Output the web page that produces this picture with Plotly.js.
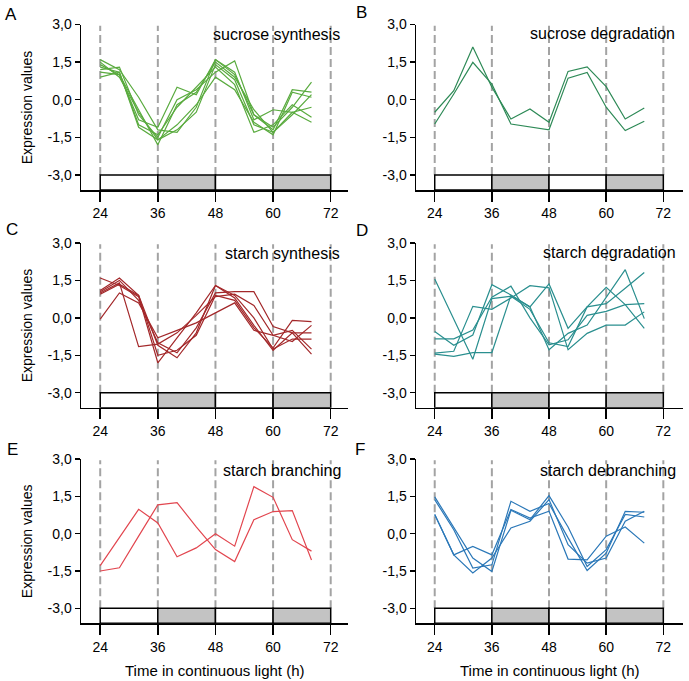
<!DOCTYPE html>
<html>
<head>
<meta charset="utf-8">
<script src="https://cdn.plot.ly/plotly-3.0.1.min.js"></script>
<style>
  html, body { margin: 0; padding: 0; background: #ffffff; }
  #chart { width: 689px; height: 681px; }
</style>
</head>
<body>
<div id="chart"></div>
<script>
// ---- data ----
const hours = [24, 28, 32, 36, 40, 44, 48, 52, 56, 60, 64, 68];
const xTickVals = [24, 36, 48, 60, 72];
const yTickVals = [-3, -1.5, 0, 1.5, 3];
const yTickText = ["-3,0", "-1,5", "0,0", "1,5", "3,0"];
const panelLetters = ["A", "B", "C", "D", "E", "F"];
const panelTitles = ["sucrose synthesis", "sucrose degradation", "starch synthesis",
                     "starch degradation", "starch branching", "starch debranching"];
const yAxisTitle = "Expression values";
const xAxisTitle = "Time in continuous light (h)";
// light/dark periods (subjective day = white, subjective night = grey)
const periodStarts = [24, 36, 48, 60];
const periodEnds = [36, 48, 60, 72];
const periodDark = [false, true, false, true];

const sucroseSynthesis = [
  [1.6, 1.2, 0.1, -1.2, -1.3, -0.3, 1.6, 1.0, -0.6, -1.2, 0.4, 0.3],
  [1.4, 1.0, -0.4, -1.8, -0.2, 0.3, 1.5, 0.9, -0.4, -1.3, -0.5, -0.9],
  [1.2, 1.3, -0.6, -1.5, 0.0, 0.4, 1.1, 1.55, -0.6, -1.1, -0.3, 0.7],
  [1.3, 1.1, -1.0, -1.4, -0.3, 0.5, 1.3, 0.6, -1.3, -1.0, -0.2, -0.7],
  [0.9, 1.1, -1.1, -1.6, -1.0, -0.2, 0.9, 0.4, -0.9, -1.4, 0.3, 0.1],
  [1.1, 1.0, -0.8, -1.1, 0.5, 0.2, 1.6, 1.1, -0.8, -0.4, -0.5, -0.3],
  [1.5, 0.9, -0.5, -1.6, -1.2, -0.5, 1.4, 0.8, -1.0, -1.3, -0.6, 0.2]
];
const sucroseDegradation = [
  [-0.5, 0.36, 2.1, 0.5, -0.77, -0.37, -0.9, 1.13, 1.31, 0.52, -0.77, -0.33],
  [-0.97, 0.23, 1.49, 0.62, -0.97, -1.07, -1.2, 0.86, 1.09, -0.3, -1.23, -0.86]
];
const starchSynthesis = [
  [1.6, 1.3, 0.85, -1.8, -0.8, 0.2, 1.3, 0.9, 0.0, -1.25, -0.85, -0.85],
  [1.1, 1.6, 0.9, -1.1, -1.6, -0.6, 1.3, 0.8, -0.3, -1.3, -0.6, -1.45],
  [1.05, 1.5, 0.7, -1.0, -1.4, -0.4, 1.0, 1.05, 1.05, -0.35, -0.6, -0.6],
  [1.0, 1.4, -1.15, -1.05, -0.6, 0.1, 0.85, 0.95, 0.5, -0.7, -0.95, -0.3],
  [0.95, 1.35, 0.9, -1.5, -1.3, -0.7, 0.9, 0.7, -0.4, -1.2, -0.1, -0.15],
  [-0.05, 1.0, 0.6, -0.8, -0.5, -0.2, 0.2, 0.6, -0.5, -0.7, -0.5, -1.25]
];
const starchDegradation = [
  [1.56, -0.05, -1.66, 0.77, 0.87, 0.34, -1.0, -1.15, 0.44, 1.22, 0.53, -0.42],
  [-0.55, -1.1, -0.69, 1.33, 0.92, 0.44, -1.28, -0.62, -0.29, 0.83, 1.93, -0.03],
  [-0.84, -0.84, -0.49, 0.83, 1.27, 0.0, -1.08, -0.88, 0.1, 0.26, 0.53, 0.57],
  [-1.41, -1.34, 0.46, 0.34, 0.8, 1.29, 1.2, -1.28, -0.62, -0.29, -0.29, 0.24],
  [-1.45, -1.54, -1.39, -1.39, 0.9, 0.44, 1.36, -0.42, 0.44, 0.57, 1.19, 1.82]
];
const starchBranching = [
  [-1.28, -0.15, 0.98, 0.43, -0.93, -0.57, 0.0, -0.5, 1.89, 1.46, -0.24, -0.7],
  [-1.5, -1.37, -0.1, 1.16, 1.25, 0.27, -0.64, -1.12, 0.56, 0.89, 0.93, -1.06]
];
const starchDebranching = [
  [1.48, 0.27, -0.98, -1.52, 0.94, 0.56, 1.53, 0.27, -1.32, -0.64, 0.77, 0.67],
  [1.37, 0.16, -1.38, -1.25, 1.3, 0.9, 1.21, -0.17, -1.48, -0.78, 0.9, 0.86],
  [0.77, -0.85, -1.58, -0.98, 0.23, 0.5, 1.37, -0.44, -1.18, -0.98, 0.5, 0.9],
  [0.77, -0.85, -0.51, -0.85, 0.97, 0.63, 0.9, -1.02, -1.05, -0.1, 0.27, -0.38]
];

// ---- styling / layout ----
const W = 689, H = 681;
const panelSeries = [sucroseSynthesis, sucroseDegradation, starchSynthesis,
                     starchDegradation, starchBranching, starchDebranching];
const panelColors = ["#5aab3f", "#2e8a57", "#a3282a", "#2a8f8f", "#e2464f", "#2b78b8"];
const colPx = [[81, 348], [416, 683]];
const colRange = [[20, 75.6], [20.07, 76.13]];
const rowPx = [[24.5, 190], [243, 407.7], [459, 623.3]];
const yRange = [-3.6, 3];
const FONT = "Arial, 'Liberation Sans', Helvetica, sans-serif";

const px = (x) => x / W;
const py = (y) => 1 - y / H;

const traces = [];
const shapes = [];
const annotations = [];
const layout = {
  width: W, height: H,
  margin: {l: 0, r: 0, t: 0, b: 0},
  paper_bgcolor: "#ffffff", plot_bgcolor: "rgba(0,0,0,0)",
  showlegend: false,
  font: {family: FONT, size: 14, color: "#000000"},
  shapes: shapes, annotations: annotations
};

const letterPos = [[11, 15], [362, 12], [12, 230], [362, 231], [12, 449], [360, 449]];
const titlePos = [[342, 35], [677, 34], [342, 253], [678, 252], [343, 470], [678, 470]];

for (let p = 0; p < 6; p++) {
  const col = p % 2, row = Math.floor(p / 2);
  const n = p + 1;
  const xa = "x" + (n === 1 ? "" : n), ya = "y" + (n === 1 ? "" : n);
  const xKey = "xaxis" + (n === 1 ? "" : n), yKey = "yaxis" + (n === 1 ? "" : n);
  layout[xKey] = {
    domain: [px(colPx[col][0]), px(colPx[col][1])],
    range: colRange[col], anchor: ya,
    showline: true, linecolor: "#000", linewidth: 1.5,
    ticks: "outside", ticklen: 10, tickwidth: 1.5, tickcolor: "#000",
    tickvals: xTickVals, ticktext: xTickVals.map(String),
    tickfont: {size: 14, family: FONT},
    showgrid: false, zeroline: false, fixedrange: true
  };
  layout[yKey] = {
    domain: [py(rowPx[row][1]), py(rowPx[row][0])],
    range: yRange, anchor: xa,
    showline: true, linecolor: "#000", linewidth: 1.5,
    ticks: "outside", ticklen: 5, tickwidth: 1.5, tickcolor: "#000",
    tickvals: yTickVals, ticktext: yTickText,
    tickfont: {size: 14, family: FONT},
    showgrid: false, zeroline: false, fixedrange: true
  };
  // dashed time markers
  xTickVals.forEach(h => {
    shapes.push({type: "line", xref: xa, yref: ya, x0: h, x1: h, y0: -3, y1: 2.95,
      line: {color: "#a3a3a3", width: 2, dash: "8px,4px"}, layer: "below"});
  });
  // light/dark bar
  periodStarts.forEach((s, i) => {
    shapes.push({type: "rect", xref: xa, yref: ya, x0: s, x1: periodEnds[i],
      y0: yRange[0], y1: -3, fillcolor: periodDark[i] ? "#c3c3c3" : "#ffffff",
      line: {color: "#000", width: 1.5}, layer: "above"});
  });
  panelSeries[p].forEach(vals => {
    traces.push({type: "scatter", mode: "lines", x: hours, y: vals, xaxis: xa, yaxis: ya,
      line: {color: panelColors[p], width: 1.2}, hoverinfo: "skip"});
  });
  annotations.push({text: panelLetters[p], xref: "paper", yref: "paper",
    x: px(letterPos[p][0]), y: py(letterPos[p][1]), xanchor: "center", yanchor: "middle",
    showarrow: false, font: {size: 17, family: FONT}});
  annotations.push({text: panelTitles[p], xref: "paper", yref: "paper",
    x: px(titlePos[p][0]), y: py(titlePos[p][1]), xanchor: "right", yanchor: "middle",
    showarrow: false, font: {size: 16, family: FONT}});
  if (col === 0) {
    annotations.push({text: yAxisTitle, xref: "paper", yref: "paper",
      x: px(27), y: py((rowPx[row][0] + rowPx[row][1]) / 2), xanchor: "center", yanchor: "middle",
      textangle: -90, showarrow: false, font: {size: 14, family: FONT}});
  }
  if (row === 2) {
    annotations.push({text: xAxisTitle, xref: "paper", yref: "paper",
      x: px((colPx[col][0] + colPx[col][1]) / 2), y: py(670), xanchor: "center", yanchor: "middle",
      showarrow: false, font: {size: 15, family: FONT}});
  }
}

Plotly.newPlot("chart", traces, layout, {staticPlot: true, displayModeBar: false});
</script>
</body>
</html>
